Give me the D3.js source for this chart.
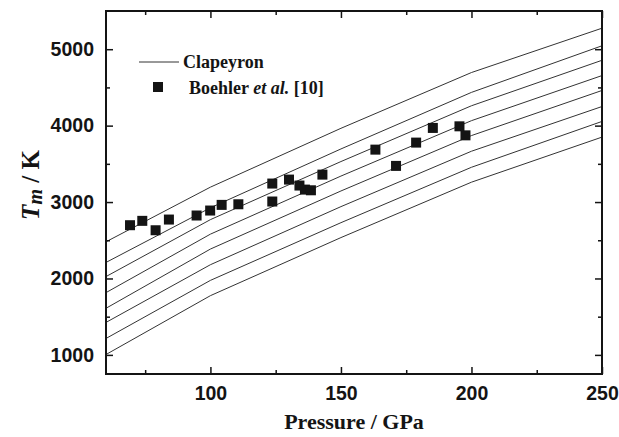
<!DOCTYPE html>
<html>
<head>
<meta charset="UTF-8">
<script src="https://cdnjs.cloudflare.com/ajax/libs/d3/7.8.5/d3.min.js"></script>
<style>
  body { margin: 0; background: #fff; }
  svg { display: block; font-family: "Liberation Serif", "Times New Roman", serif; }
  .axis text { font-size: 19.5px; font-weight: bold; }
</style>
</head>
<body>
<svg id="chart" width="619" height="437"></svg>
<script>
// pressures (GPa) at which the Clapeyron curves are sampled
const pressures = [60, 100, 150, 200, 250];

// melting temperature (K) for each Clapeyron curve, top to bottom
const clapeyron = [
  [2480, 3195, 3965, 4695, 5275],
  [2210, 2925, 3695, 4435, 5045],
  [2025, 2770, 3530, 4260, 4855],
  [1815, 2580, 3340, 4065, 4655],
  [1610, 2385, 3145, 3870, 4460],
  [1425, 2180, 2940, 3665, 4250],
  [1215, 1975, 2730, 3455, 4055],
  [1005, 1775, 2535, 3260, 3850]
];

// Boehler et al. [10] measurements
const boehlerP = [69.2, 73.9, 79.0, 84.1, 94.7, 99.9, 104.3, 110.7, 123.7, 123.7, 130.1,
                  134.1, 136.2, 138.5, 142.9, 163.2, 171.1, 178.8, 185.2, 195.4, 197.7];
const boehlerT = [2697, 2754, 2631, 2771, 2824, 2889, 2963, 2971, 3242, 3007, 3294,
                  3216, 3163, 3154, 3359, 3686, 3473, 3778, 3970, 3991, 3873];

const xTicks = [100, 150, 200, 250];
const yTicks = [1000, 2000, 3000, 4000, 5000];

const W = 619, H = 437;
const margin = {top: 11, right: 17, bottom: 63, left: 106};
const iw = W - margin.left - margin.right;
const ih = H - margin.top - margin.bottom;
const ink = "#141414";

const svg = d3.select("#chart");
const g = svg.append("g").attr("transform", `translate(${margin.left},${margin.top})`);

const x = d3.scaleLinear().domain([60, 250]).range([0, iw]);
const y = d3.scaleLinear().domain([750, 5500]).range([ih, 0]);

// curves
const line = d3.line()
  .x((d, i) => x(pressures[i]))
  .y(d => y(d));

g.selectAll("path.curve")
  .data(clapeyron)
  .join("path")
  .attr("class", "curve")
  .attr("d", line)
  .attr("fill", "none")
  .attr("stroke", "#333")
  .attr("stroke-width", 1);

// squares
const sq = 10;
g.selectAll("rect.pt")
  .data(boehlerP)
  .join("rect")
  .attr("class", "pt")
  .attr("x", d => x(d) - sq / 2)
  .attr("y", (d, i) => y(boehlerT[i]) - sq / 2)
  .attr("width", sq)
  .attr("height", sq)
  .attr("fill", ink);

// axes, ticks inward on all four sides
const xMinor = d3.range(75, 250, 50);
const yMinor = d3.range(1500, 5500, 1000);

function tickAxis(axisFn, scale, major, minor, transform, labels) {
  const a = g.append("g").attr("class", "axis").attr("transform", transform);
  a.call(axisFn(scale).tickValues(major).tickSize(-7).tickPadding(labels ? 12 : 0)
    .tickFormat(labels ? d3.format("d") : ""));
  a.call(s => s.select(".domain").remove());
  a.selectAll(".tick line").attr("stroke", ink).attr("stroke-width", 1.5);
  const m = g.append("g").attr("transform", transform);
  m.call(axisFn(scale).tickValues(minor).tickSize(-4).tickFormat(""));
  m.call(s => s.select(".domain").remove());
  m.selectAll(".tick line").attr("stroke", ink).attr("stroke-width", 1.5);
}

tickAxis(d3.axisBottom, x, xTicks, xMinor, `translate(0,${ih})`, true);
tickAxis(d3.axisTop, x, xTicks, xMinor, "translate(0,0)", false);
tickAxis(d3.axisLeft, y, yTicks, yMinor, "translate(0,0)", true);
tickAxis(d3.axisRight, y, yTicks, yMinor, `translate(${iw},0)`, false);

g.selectAll(".axis text").attr("fill", ink);

// frame
g.append("rect")
  .attr("width", iw).attr("height", ih)
  .attr("fill", "none").attr("stroke", ink).attr("stroke-width", 2);

// axis titles
svg.append("text")
  .attr("x", margin.left + iw / 2).attr("y", 429)
  .attr("text-anchor", "middle")
  .attr("font-size", 22).attr("font-weight", "bold").attr("fill", ink)
  .text("Pressure / GPa");

const yt = svg.append("text")
  .attr("transform", `translate(39,185) rotate(-90)`)
  .attr("text-anchor", "middle")
  .attr("font-size", 25).attr("font-weight", "bold").attr("fill", ink);
yt.append("tspan").attr("font-style", "italic").text("T");
yt.append("tspan").attr("font-style", "italic").attr("font-size", 20).attr("dy", 3).text("m");
yt.append("tspan").attr("dy", -3).text(" / K");

// legend
const lg = svg.append("g");
lg.append("line")
  .attr("x1", 139).attr("x2", 179).attr("y1", 62).attr("y2", 62)
  .attr("stroke", "#333").attr("stroke-width", 1);
lg.append("text")
  .attr("x", 183).attr("y", 68)
  .attr("font-size", 18).attr("font-weight", "bold").attr("fill", ink)
  .text("Clapeyron");
lg.append("rect")
  .attr("x", 158 - sq / 2).attr("y", 87 - sq / 2).attr("width", sq).attr("height", sq)
  .attr("fill", ink);
const bt = lg.append("text")
  .attr("x", 189).attr("y", 94)
  .attr("font-size", 18).attr("font-weight", "bold").attr("fill", ink);
bt.append("tspan").text("Boehler ");
bt.append("tspan").attr("font-style", "italic").text("et al.");
bt.append("tspan").text(" [10]");
</script>
</body>
</html>
